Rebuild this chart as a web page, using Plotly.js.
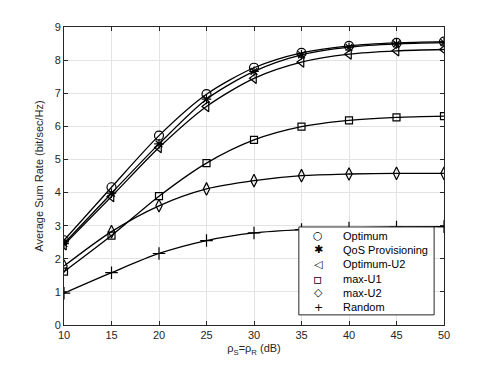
<!DOCTYPE html>
<html>
<head>
<meta charset="utf-8">
<script src="https://cdn.plot.ly/plotly-3.0.1.min.js"></script>
<style>
  html, body { margin: 0; padding: 0; background: #fff; }
  #divplot { width: 491px; height: 365px; }
</style>
</head>
<body>
<div id="divplot"></div>
<script>
// snr values (dB)
var snr = [10, 15, 20, 25, 30, 35, 40, 45, 50];

var optimum   = [2.56, 4.16, 5.72, 6.97, 7.77, 8.22, 8.43, 8.52, 8.56];
var qosProv   = [2.46, 3.98, 5.47, 6.82, 7.66, 8.16, 8.39, 8.49, 8.53];
var optimumU2 = [2.42, 3.88, 5.36, 6.60, 7.45, 7.94, 8.18, 8.28, 8.32];
var maxU1     = [1.61, 2.70, 3.89, 4.89, 5.59, 5.99, 6.18, 6.27, 6.31];
var maxU2     = [1.78, 2.82, 3.60, 4.11, 4.36, 4.51, 4.56, 4.58, 4.58];
var randomSel = [0.96, 1.58, 2.16, 2.55, 2.78, 2.88, 2.93, 2.96, 2.97];

var names   = ['Optimum', 'QoS Provisioning', 'Optimum-U2', 'max-U1', 'max-U2', 'Random'];
var symbols = ['circle-open', 'asterisk-open', 'triangle-left-open', 'square-open', 'diamond-tall-open', 'cross-thin-open'];
var glyphs  = ['○', '✱', '◁', '▫', '◇', '+'];
var sizes   = [9, 8, 9, 7, 9, 9];
var series  = [optimum, qosProv, optimumU2, maxU1, maxU2, randomSel];

var traceData = [];
// smooth curves
series.forEach(function(ys) {
    traceData.push({
        x: snr, y: ys, type: 'scatter', mode: 'lines',
        line: {color: '#000', width: 1.3, shape: 'spline', smoothing: 0.8},
        showlegend: false, hoverinfo: 'skip'
    });
});
// markers
series.forEach(function(ys, i) {
    traceData.push({
        x: snr, y: ys, type: 'scatter', mode: 'markers', name: names[i],
        showlegend: false,
        marker: {symbol: symbols[i], size: sizes[i], color: '#000', line: {color: '#000', width: 1.2}}
    });
});

// legend box drawn by hand (plotly's legend rows are too tall for this one)
var legX0 = 0.618, legX1 = 0.974, legY0 = 0.034, legY1 = 0.329;
var rowTop = 0.300, rowStep = 0.048;
var annotations = [];
names.forEach(function(n, i) {
    var yy = rowTop - i * rowStep;
    annotations.push({
        xref: 'paper', yref: 'paper', x: 0.669, y: yy, xanchor: 'center', yanchor: 'middle',
        text: glyphs[i], showarrow: false,
        font: {family: 'DejaVu Sans', size: i == 3 ? 14 : 11, color: '#000'}
    });
    annotations.push({
        xref: 'paper', yref: 'paper', x: 0.728, y: yy, xanchor: 'left', yanchor: 'middle',
        text: n, showarrow: false,
        font: {size: 11, color: '#000'}
    });
});

var axisStyle = {
    showline: true, mirror: 'ticks', linecolor: '#262626', linewidth: 1,
    ticks: 'inside', ticklen: 4, tickcolor: '#262626',
    showgrid: true, gridcolor: '#e3e3e3', gridwidth: 1,
    zeroline: false,
    tickfont: {size: 11, color: '#262626'}
};

var layout = {
    width: 491, height: 365,
    margin: {l: 64, r: 47, t: 27, b: 40},
    paper_bgcolor: '#fff', plot_bgcolor: '#fff',
    font: {family: 'Liberation Sans, Arial, sans-serif', color: '#262626'},
    showlegend: false,
    xaxis: Object.assign({}, axisStyle, {
        range: [10, 50], dtick: 5, tick0: 10,
        title: {text: 'ρ<sub>S</sub>=ρ<sub>R</sub> (dB)', font: {size: 11}, standoff: 4}
    }),
    yaxis: Object.assign({}, axisStyle, {
        range: [0, 9], dtick: 1,
        title: {text: 'Average Sum Rate (bit/sec/Hz)', font: {size: 11}, standoff: 8}
    }),
    shapes: [{
        type: 'rect', xref: 'paper', yref: 'paper',
        x0: legX0, x1: legX1, y0: legY0, y1: legY1,
        line: {color: '#262626', width: 1}, fillcolor: '#fff', layer: 'above'
    }],
    annotations: annotations
};

Plotly.newPlot('divplot', traceData, layout, {staticPlot: true});
</script>
</body>
</html>
